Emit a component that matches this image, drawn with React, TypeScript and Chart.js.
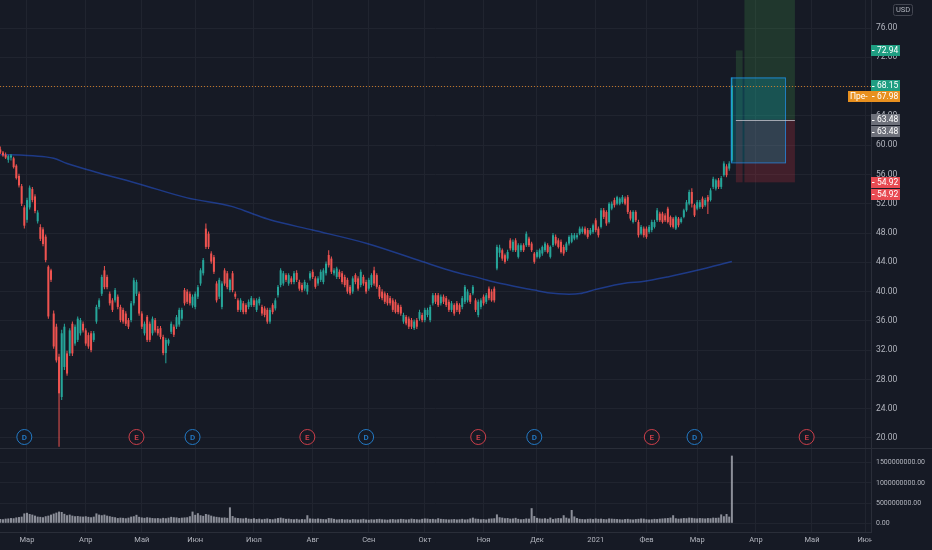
import { useEffect, useRef } from "react";
import { Chart, registerables } from "chart.js";

Chart.register(...registerables);

// Daily candles, one per trading day (open, high, low, close)
const ohlc: [number, number, number, number][] = [
  [59.4, 59.8, 58.8, 59.0], [59.0, 59.2, 58.4, 58.6], [58.7, 59.0, 58.1, 58.3], [58.0, 58.7, 57.6, 58.5], [58.3, 58.8, 57.9, 58.6],
  [58.2, 58.4, 56.8, 57.0], [57.2, 57.4, 55.3, 55.5], [55.8, 56.1, 54.2, 54.5], [54.4, 54.7, 51.7, 52.0], [51.5, 51.8, 48.6, 49.0],
  [49.8, 52.8, 49.4, 52.5], [51.5, 54.5, 51.2, 54.2], [54.0, 54.3, 52.2, 52.5], [53.0, 53.3, 50.7, 51.0], [49.6, 51.1, 49.3, 50.8],
  [48.8, 49.2, 46.9, 47.2], [48.5, 48.8, 46.2, 46.5], [47.5, 47.8, 44.0, 44.3], [43.4, 43.6, 36.3, 36.6], [42.9, 43.1, 41.3, 41.6],
  [37.0, 37.4, 32.2, 32.5], [35.2, 35.6, 30.3, 30.6], [31.1, 31.5, 18.8, 26.1], [25.6, 34.8, 25.2, 34.3], [29.7, 35.6, 29.3, 35.2],
  [31.55, 31.9, 28.5, 28.8], [31.55, 35.0, 31.2, 34.7], [35.6, 35.9, 31.2, 31.55], [32.9, 35.5, 32.6, 35.2], [33.4, 36.6, 33.1, 36.3],
  [34.3, 36.4, 34.0, 36.1], [35.6, 35.9, 34.4, 34.7], [34.7, 35.0, 32.6, 32.9], [34.05, 34.4, 32.2, 32.5], [34.3, 34.6, 31.7, 32.0],
  [33.4, 34.6, 33.1, 34.3], [35.9, 38.2, 35.6, 37.9], [37.9, 39.1, 37.6, 38.8], [39.7, 42.3, 39.4, 42.0], [42.9, 43.5, 40.3, 40.6],
  [42.0, 42.3, 40.3, 40.6], [39.7, 40.0, 38.1, 38.4], [38.8, 39.1, 37.2, 37.5], [38.8, 40.5, 38.5, 40.2], [39.3, 39.6, 37.6, 37.9],
  [37.9, 38.2, 35.8, 36.1], [37.5, 37.8, 35.6, 35.9], [37.0, 37.3, 35.3, 35.6], [36.1, 36.4, 34.9, 35.2], [36.1, 38.7, 35.8, 38.4],
  [38.4, 41.9, 38.1, 41.55], [39.7, 41.6, 39.4, 41.3], [39.7, 40.0, 36.7, 37.0], [37.0, 37.3, 34.9, 35.2], [34.3, 35.9, 34.0, 35.6],
  [36.55, 36.8, 33.1, 33.4], [35.6, 35.9, 33.1, 33.4], [34.3, 36.6, 34.0, 36.3], [36.1, 36.4, 34.4, 34.7], [34.9, 35.3, 34.0, 34.3],
  [35.0, 35.3, 33.5, 33.8], [33.8, 34.1, 31.3, 31.6], [31.6, 33.7, 30.2, 33.4], [32.9, 33.6, 32.6, 33.4], [34.5, 35.9, 34.2, 35.6],
  [35.2, 35.5, 33.8, 34.1], [35.2, 36.8, 34.9, 36.5], [35.5, 37.8, 35.2, 37.5], [36.3, 37.8, 36.0, 37.5], [40.2, 40.5, 38.1, 38.4],
  [40.0, 40.3, 38.3, 38.6], [39.7, 40.0, 38.1, 38.4], [38.1, 39.6, 37.8, 39.3], [37.9, 40.0, 37.6, 39.7], [39.3, 40.9, 39.0, 40.6],
  [41.1, 43.2, 40.8, 42.9], [42.5, 44.6, 42.2, 44.3], [48.6, 49.3, 45.8, 46.1], [47.9, 48.2, 45.8, 46.1], [45.2, 45.5, 43.8, 44.1],
  [44.7, 45.0, 42.4, 42.7], [41.1, 41.4, 38.5, 38.8], [39.3, 41.9, 39.0, 41.6], [37.9, 41.4, 37.6, 41.1], [42.9, 43.2, 40.8, 41.1],
  [42.5, 42.8, 40.3, 40.6], [40.2, 41.8, 39.9, 41.6], [42.5, 42.8, 39.9, 40.2], [39.7, 40.0, 39.0, 39.3], [38.8, 39.1, 37.2, 37.5],
  [37.5, 39.1, 37.2, 38.8], [38.4, 38.7, 36.9, 37.2], [38.15, 38.4, 36.9, 37.2], [37.9, 38.9, 37.6, 38.6], [38.15, 39.4, 37.9, 39.1],
  [38.8, 39.1, 37.9, 38.15], [37.5, 39.1, 37.2, 38.8], [38.4, 39.3, 38.1, 39.0], [37.9, 38.2, 36.7, 37.0], [37.7, 38.0, 36.5, 36.8],
  [37.5, 37.8, 35.6, 35.9], [35.9, 37.8, 35.6, 37.5], [38.15, 38.4, 36.9, 37.2], [37.7, 39.1, 37.4, 38.8], [39.5, 40.9, 39.2, 40.65],
  [40.9, 43.2, 40.6, 42.9], [41.1, 42.8, 40.8, 42.5], [42.25, 42.5, 41.3, 41.6], [41.1, 42.5, 40.8, 42.25], [41.8, 42.1, 41.0, 41.3],
  [41.3, 42.8, 41.0, 42.5], [42.55, 42.9, 41.3, 41.6], [41.3, 41.6, 40.1, 40.4], [40.9, 41.2, 39.9, 40.2], [40.4, 41.6, 40.1, 41.3],
  [40.0, 41.2, 39.6, 40.9], [41.8, 42.8, 41.5, 42.5], [42.7, 43.0, 41.7, 42.0], [41.8, 42.1, 40.4, 40.65], [41.1, 42.1, 40.8, 41.8],
  [41.6, 43.0, 41.3, 42.7], [41.3, 43.2, 41.0, 42.9], [42.5, 44.1, 42.2, 43.8], [45.0, 45.65, 43.3, 43.6], [44.5, 44.8, 42.4, 42.7],
  [42.5, 43.2, 42.2, 42.9], [42.0, 43.4, 41.7, 43.15], [42.7, 43.0, 41.7, 42.0], [42.5, 42.8, 41.0, 41.3], [42.0, 42.3, 40.6, 40.9],
  [41.6, 41.9, 39.7, 40.0], [40.65, 40.9, 39.5, 39.75], [40.0, 42.1, 39.7, 41.8], [42.25, 42.5, 41.0, 41.3], [41.8, 42.1, 40.1, 40.4],
  [40.9, 43.0, 40.6, 42.7], [42.0, 42.3, 40.8, 41.1], [41.3, 41.6, 39.7, 40.0], [40.4, 41.9, 40.1, 41.6], [40.9, 42.5, 40.6, 42.25],
  [42.9, 43.4, 40.8, 41.1], [42.25, 42.5, 40.4, 40.65], [40.65, 40.9, 39.0, 39.3], [40.0, 40.3, 38.8, 39.1], [39.75, 40.0, 38.3, 38.6],
  [39.5, 39.8, 38.1, 38.4], [39.1, 39.4, 38.1, 38.4], [38.8, 39.1, 37.2, 37.5], [38.6, 38.9, 37.0, 37.2], [38.15, 38.4, 36.9, 37.2],
  [37.9, 38.2, 36.7, 37.0], [35.9, 37.1, 35.6, 36.8], [36.55, 36.8, 35.4, 35.65], [36.3, 36.6, 34.9, 35.2], [36.1, 36.4, 34.9, 35.2],
  [35.0, 36.2, 34.75, 35.9], [36.1, 36.4, 34.9, 35.2], [36.3, 37.5, 36.0, 37.2], [36.8, 37.1, 35.8, 36.1], [36.1, 37.8, 35.8, 37.5],
  [36.8, 37.8, 36.5, 37.5], [36.1, 38.2, 35.8, 37.9], [38.4, 39.8, 38.1, 39.5], [39.5, 39.8, 38.3, 38.6], [39.5, 39.8, 37.9, 38.15],
  [38.4, 39.6, 38.1, 39.3], [39.3, 39.6, 38.3, 38.6], [39.1, 39.4, 37.9, 38.15], [38.6, 38.9, 37.2, 37.5], [37.5, 38.7, 37.2, 38.4],
  [38.15, 38.4, 36.7, 37.0], [38.4, 38.7, 37.2, 37.5], [38.15, 38.4, 36.9, 37.2], [37.9, 39.4, 37.6, 39.1], [38.6, 40.9, 38.3, 40.65],
  [38.8, 40.3, 38.5, 40.0], [39.5, 39.8, 38.3, 38.6], [39.75, 40.9, 39.5, 40.65], [38.8, 39.1, 37.2, 37.5], [36.8, 38.9, 36.5, 38.6],
  [37.9, 39.1, 37.6, 38.8], [39.3, 39.6, 38.1, 38.4], [38.6, 39.8, 38.3, 39.5], [40.4, 40.7, 38.8, 39.1], [40.0, 40.3, 38.6, 38.8],
  [40.4, 40.7, 38.5, 38.8], [43.15, 46.4, 42.9, 46.1], [45.3, 46.4, 44.7, 46.0], [45.65, 45.9, 44.2, 44.5], [44.97, 45.2, 43.8, 44.06],
  [44.5, 45.7, 44.2, 45.4], [47.0, 47.3, 45.6, 45.9], [45.65, 47.1, 45.4, 46.8], [47.0, 47.3, 45.4, 45.65], [44.74, 46.6, 44.5, 46.33],
  [45.65, 46.6, 45.4, 46.33], [46.33, 46.6, 45.4, 45.65], [46.33, 48.2, 46.1, 47.9], [47.24, 47.5, 46.1, 46.33], [46.56, 46.8, 45.4, 45.65],
  [45.2, 45.4, 43.8, 44.06], [44.74, 45.7, 44.5, 45.4], [44.74, 45.9, 44.5, 45.65], [45.2, 46.3, 44.9, 46.1], [45.65, 46.8, 45.4, 46.56],
  [46.33, 46.6, 45.2, 45.4], [44.74, 46.3, 44.5, 46.1], [46.33, 48.0, 46.1, 47.7], [47.47, 47.8, 46.3, 46.56], [47.0, 47.3, 45.9, 46.1],
  [46.8, 47.1, 45.2, 45.4], [46.1, 46.4, 44.9, 45.2], [45.65, 46.8, 45.4, 46.56], [46.56, 47.7, 46.3, 47.47], [46.8, 48.0, 46.6, 47.7],
  [47.24, 48.0, 47.0, 47.7], [47.4, 48.0, 47.1, 47.7], [47.9, 48.9, 47.7, 48.6], [48.15, 48.9, 47.9, 48.6], [48.6, 48.9, 47.7, 47.9],
  [48.4, 48.7, 47.2, 47.47], [47.9, 48.7, 47.7, 48.4], [48.15, 49.3, 47.9, 49.06], [49.74, 50.0, 48.1, 48.4], [48.6, 48.9, 47.4, 47.7],
  [48.83, 51.4, 48.6, 51.1], [51.1, 51.4, 49.9, 50.2], [50.88, 51.1, 49.0, 49.3], [49.5, 52.2, 49.3, 52.0], [51.33, 52.3, 51.1, 52.0],
  [52.5, 52.8, 51.5, 51.8], [52.0, 53.1, 51.8, 52.9], [52.0, 52.9, 51.8, 52.7], [52.2, 53.2, 52.0, 52.9], [52.7, 53.0, 51.8, 52.0],
  [52.9, 53.2, 50.6, 50.88], [50.88, 51.1, 49.7, 49.97], [49.5, 51.1, 49.3, 50.88], [50.88, 51.1, 49.5, 49.74], [49.5, 49.8, 47.4, 47.7],
  [47.9, 49.1, 47.7, 48.83], [48.6, 48.9, 47.4, 47.7], [48.6, 48.9, 47.2, 47.47], [48.15, 49.1, 47.9, 48.83], [48.4, 49.8, 48.1, 49.5],
  [48.83, 49.8, 48.6, 49.5], [49.74, 51.4, 49.5, 51.1], [50.65, 50.9, 49.5, 49.74], [50.65, 50.9, 49.3, 49.5], [50.4, 50.7, 49.5, 49.74],
  [51.33, 51.6, 49.3, 49.5], [50.2, 50.4, 48.8, 49.06], [49.97, 50.2, 48.6, 48.83], [48.6, 50.4, 48.4, 50.2], [49.97, 50.2, 48.8, 49.06],
  [49.5, 50.2, 49.3, 49.97], [50.2, 51.3, 50.0, 51.1], [51.1, 52.5, 50.9, 52.2], [52.0, 53.9, 51.8, 53.6], [53.6, 54.1, 51.5, 52.0],
  [51.8, 52.0, 50.2, 50.4], [51.33, 52.5, 51.1, 52.2], [51.56, 52.5, 51.3, 52.2], [52.7, 53.0, 51.3, 51.56], [51.8, 52.8, 51.6, 52.5],
  [52.9, 53.2, 50.6, 52.3], [52.5, 54.1, 52.3, 53.83], [54.3, 55.7, 54.0, 55.4], [54.06, 55.4, 53.8, 55.2], [55.2, 55.5, 54.0, 54.3],
  [54.3, 55.8, 54.0, 55.5], [55.9, 57.8, 55.7, 57.5], [57.1, 57.4, 55.6, 55.9], [56.8, 57.8, 56.5, 57.5], [57.9, 69.25, 57.65, 68.15],
];

// Volume per day, in millions of shares
const volumesM: number[] = [
  105, 100, 115, 120, 130, 125, 145, 155, 165,
  245, 260,
  230, 215, 190,
  165, 160, 150, 175, 190,
  215, 240, 265, 290, 280,
  235, 200, 215, 190, 175,
  180, 170, 165, 175, 160,
  150, 165, 245, 215, 200,
  215, 190, 175, 160, 150,
  130, 140, 135, 125, 140,
  165, 175, 210, 160, 145,
  135, 150, 140, 130, 125,
  130, 120, 135, 125, 140,
  160, 150, 145, 130, 140,
  145, 150, 175, 290, 210,
  250, 200, 185, 230, 215,
  190, 170, 160, 150, 140,
  145, 135, 395, 180, 140,
  130, 125, 120, 135, 115,
  110, 125, 105, 115, 100,
  110, 120, 105, 100, 115,
  130, 140, 125, 110, 115,
  105, 100, 110, 95, 105,
  100, 200, 120, 115, 110,
  120, 110, 105, 100, 130,
  125, 110, 95, 100, 105,
  95, 100, 90, 105, 100,
  95, 100, 110, 95, 90,
  100, 95, 105, 110, 100,
  95, 90, 100, 105, 95,
  100, 110, 105, 95, 100,
  115, 105, 100, 95, 110,
  120, 115, 105, 110, 100,
  125, 110, 105, 100, 95,
  100, 105, 95, 100, 110,
  95, 100, 120, 140, 115,
  110, 100, 105, 95, 115,
  120, 125, 220, 150, 140,
  125, 130, 115, 120, 135,
  110, 100, 105, 120, 115,
  375, 180, 135, 120, 115,
  125, 110, 140, 105, 120,
  130, 125, 200, 140, 120,
  330, 170, 130, 110, 105,
  100, 110, 115, 105, 120,
  110, 115, 105, 100, 120,
  115, 110, 105, 100, 95,
  105, 110, 100, 95, 105,
  110, 120, 115, 100, 95,
  100, 110, 105, 115, 120,
  125, 130, 140, 200, 125,
  115, 120, 130, 125, 140,
  135, 125, 120, 130, 125,
  120, 130, 125, 140, 135,
  140, 220, 175, 230, 165,
  1675,
];

// Moving average, read at sample days: [day index, value]
const maPoints: [number, number][] = [
  [0, 58.7], [10, 58.6], [17, 58.4], [20, 58.2], [25, 57.5], [37, 56.2], [52, 54.7], [70, 52.8],
  [87, 51.6], [94, 50.7], [101, 49.8], [117, 48.4], [137, 46.6], [158, 44.1], [170, 42.7], [180, 41.8],
  [185, 41.3], [200, 40.2], [205, 39.85], [213, 39.65], [217, 39.72], [223, 40.3], [235, 41.2], [240, 41.35],
  [250, 42.0], [261, 42.9], [274, 44.1],
];

const monthTickIndex = [10, 32, 53, 73, 95, 117, 138, 159, 181, 201, 223, 242, 261, 283, 304, 324];
const monthTickLabel = ["Мар", "Апр", "Май", "Июн", "Июл", "Авг", "Сен", "Окт", "Ноя", "Дек", "2021", "Фев", "Мар", "Апр", "Май", "Июн"];
const priceTicks = [20, 24, 28, 32, 36, 40, 44, 48, 52, 56, 60, 64, 68, 72, 76];
const volumeTicks = [0, 500000000, 1000000000, 1500000000];
const dividendIndex = [9, 72, 137, 200, 260];
const earningsIndex = [51, 115, 179, 244, 302];

const lastPrice = 68.15;
const preMarketPrice = 67.98;
const entryPrice = 63.48;
const targetPrice = 72.94;
const stopPrice = 54.92;
const rangeHigh = 69.25;
const rangeLow = 57.65;

const BG = "#161a25";
const GRID = "#20242f";
const BORDER = "#2a2e39";
const TEXT = "#b2b5be";
const UP = "#26a69a";
const DOWN = "#ef5350";
const FONT = "Roboto";

const noPad = (s: any) => {
  s.paddingTop = 0;
  s.paddingBottom = 0;
  s.paddingLeft = 0;
  s.paddingRight = 0;
};

export default function App() {
  const ref = useRef<HTMLCanvasElement>(null);

  useEffect(() => {
    document.body.style.margin = "0";
    document.body.style.background = BG;
    const canvas = ref.current;
    if (!canvas) return;

    const colors = ohlc.map((c) => (c[3] >= c[0] ? UP : DOWN));

    const overlay = {
      id: "overlay",
      beforeDraw(chart: any) {
        const { ctx, width, height } = chart;
        ctx.save();
        ctx.fillStyle = BG;
        ctx.fillRect(0, 0, width, height);
        ctx.restore();
      },
      afterDatasetsDraw(chart: any) {
        const { ctx } = chart;
        const xs = chart.scales.x;
        const ys = chart.scales.y;
        const X = (v: number) => xs.getPixelForValue(v);
        const Y = (v: number) => ys.getPixelForValue(v);
        ctx.save();
        ctx.beginPath();
        ctx.rect(xs.left, ys.top, xs.right - xs.left, ys.bottom - ys.top);
        ctx.clip();

        // long position tool (narrow strip + wide box)
        const green = "rgba(76,175,80,0.2)";
        const red = "rgba(242,54,69,0.2)";
        ctx.fillStyle = green;
        ctx.fillRect(X(275.5), Y(targetPrice), X(278.0) - X(275.5), Y(entryPrice) - Y(targetPrice));
        ctx.fillRect(X(278.7), ys.top, X(297.6) - X(278.7), Y(entryPrice) - ys.top);
        ctx.fillStyle = red;
        ctx.fillRect(X(275.5), Y(entryPrice), X(278.0) - X(275.5), Y(stopPrice) - Y(entryPrice));
        ctx.fillRect(X(278.7), Y(entryPrice), X(297.6) - X(278.7), Y(stopPrice) - Y(entryPrice));

        // range rectangle
        ctx.fillStyle = "rgba(0,188,212,0.22)";
        ctx.fillRect(X(273.6), Y(rangeHigh), X(293.9) - X(273.6), Y(rangeLow) - Y(rangeHigh));
        ctx.strokeStyle = "rgba(33,150,243,0.75)";
        ctx.lineWidth = 1;
        ctx.strokeRect(X(273.6) + 0.5, Y(rangeHigh) + 0.5, X(293.9) - X(273.6), Y(rangeLow) - Y(rangeHigh));

        // entry line
        ctx.strokeStyle = "rgba(200,202,210,0.75)";
        ctx.beginPath();
        ctx.moveTo(X(275.5), Math.round(Y(entryPrice)) + 0.5);
        ctx.lineTo(X(297.6), Math.round(Y(entryPrice)) + 0.5);
        ctx.stroke();

        // last price dotted line
        ctx.strokeStyle = "rgba(220,130,40,0.85)";
        ctx.setLineDash([1, 2]);
        ctx.beginPath();
        ctx.moveTo(xs.left, Math.round(Y(lastPrice)) + 0.5);
        ctx.lineTo(xs.right, Math.round(Y(lastPrice)) + 0.5);
        ctx.stroke();
        ctx.setLineDash([]);

        // event markers
        const my = ys.bottom - 11;
        const marker = (idx: number, letter: string, col: string) => {
          const cx = X(idx);
          ctx.beginPath();
          ctx.arc(cx, my, 7.5, 0, Math.PI * 2);
          ctx.fillStyle = BG;
          ctx.fill();
          ctx.strokeStyle = col;
          ctx.lineWidth = 1;
          ctx.stroke();
          ctx.fillStyle = col;
          ctx.font = `600 8px ${FONT}`;
          ctx.textAlign = "center";
          ctx.textBaseline = "middle";
          ctx.fillText(letter, cx, my + 0.5);
        };
        dividendIndex.forEach((i) => marker(i, "D", "#2379c4"));
        earningsIndex.forEach((i) => marker(i, "E", "#cc3f4a"));
        ctx.restore();
      },
      afterDraw(chart: any) {
        const { ctx, width, height } = chart;
        const xs = chart.scales.x;
        const ys = chart.scales.y;
        const Y = (v: number) => ys.getPixelForValue(v);
        ctx.save();

        // cover the corner under the price scale
        ctx.fillStyle = BG;
        ctx.fillRect(ys.left + 1, xs.top + 1, width - ys.left, height - xs.top);

        // pane separator
        ctx.strokeStyle = BORDER;
        ctx.lineWidth = 1;
        ctx.beginPath();
        ctx.moveTo(0, Math.round(ys.bottom) + 0.5);
        ctx.lineTo(width, Math.round(ys.bottom) + 0.5);
        ctx.stroke();

        const left = ys.left;
        const tag = (cy: number, text: string, bg: string, prefix?: string) => {
          const h = 11;
          const x0 = prefix ? left - 23 : left;
          ctx.fillStyle = bg;
          ctx.fillRect(x0, Math.round(cy - h / 2), left + 29 - x0, h);
          ctx.fillStyle = "#ffffff";
          ctx.font = `8.5px ${FONT}`;
          ctx.textAlign = "left";
          ctx.textBaseline = "middle";
          if (prefix) ctx.fillText(prefix, left - 21, cy + 0.5);
          ctx.fillRect(left + 1, Math.round(cy), 2.5, 1);
          ctx.fillText(text, left + 6, cy + 0.5);
        };
        tag(Y(targetPrice), targetPrice.toFixed(2), "#1f9e82");
        tag(Y(lastPrice), lastPrice.toFixed(2), "#1f9e82");
        tag(Y(lastPrice) + 10.7, preMarketPrice.toFixed(2), "#e8901f", "Пре-");
        tag(Y(entryPrice), entryPrice.toFixed(2), "#6e717b");
        tag(Y(entryPrice) + 12, entryPrice.toFixed(2), "#6e717b");
        tag(Y(stopPrice), stopPrice.toFixed(2), "#e84b53");
        tag(Y(stopPrice) + 12, stopPrice.toFixed(2), "#e84b53");

        // currency box
        ctx.strokeStyle = "#434651";
        ctx.lineWidth = 1;
        ctx.beginPath();
        (ctx as any).roundRect(893.5, 4.5, 19, 11, 2);
        ctx.stroke();
        ctx.fillStyle = TEXT;
        ctx.font = `7.5px ${FONT}`;
        ctx.textAlign = "center";
        ctx.textBaseline = "middle";
        ctx.fillText("USD", 903, 10.5);
        ctx.restore();
      },
    };

    const chart = new Chart(canvas, {
      type: "bar",
      data: {
        datasets: [
          {
            label: "wick",
            data: ohlc.map((c, i) => ({ x: i, y: [c[2], c[1]] })) as any,
            backgroundColor: colors,
            barThickness: 1,
            grouped: false,
            inflateAmount: 0,
            borderWidth: 0,
            yAxisID: "y",
            order: 3,
          } as any,
          {
            label: "body",
            data: ohlc.map((c, i) => ({ x: i, y: [c[0], c[3]] })) as any,
            backgroundColor: colors,
            barThickness: 2,
            minBarLength: 1,
            grouped: false,
            inflateAmount: 0,
            borderWidth: 0,
            yAxisID: "y",
            order: 2,
          } as any,
          {
            label: "volume",
            data: volumesM.map((v, i) => ({ x: i, y: v * 1000000 })) as any,
            backgroundColor: "rgba(170,173,182,0.8)",
            barThickness: 2,
            grouped: false,
            inflateAmount: 0,
            borderWidth: 0,
            yAxisID: "yv",
            order: 4,
          } as any,
          {
            type: "line",
            label: "ma",
            data: maPoints.map(([i, v]) => ({ x: i, y: v })) as any,
            borderColor: "rgba(41,98,255,0.45)",
            borderWidth: 1.5,
            pointRadius: 0,
            cubicInterpolationMode: "monotone",
            yAxisID: "y",
            order: 5,
          } as any,
        ],
      },
      options: {
        responsive: false,
        animation: false,
        events: [],
        layout: { padding: 0 },
        plugins: { legend: { display: false }, tooltip: { enabled: false } },
        scales: {
          x: {
            type: "linear",
            min: -0.11,
            max: 326.1,
            offset: false,
            grid: { color: GRID, offset: false, drawTicks: false },
            border: { color: BORDER },
            ticks: {
              color: TEXT,
              font: { family: FONT, size: 7.5 },
              padding: 4,
              autoSkip: false,
              maxRotation: 0,
              minRotation: 0,
              callback: (v: any) => {
                const k = monthTickIndex.indexOf(Number(v));
                return k >= 0 ? monthTickLabel[k] : "";
              },
            },
            afterBuildTicks: (s: any) => {
              s.ticks = monthTickIndex.map((v) => ({ value: v }));
            },
            afterFit: (s: any) => {
              s.height = 18;
              noPad(s);
            },
          } as any,
          y: {
            type: "linear",
            position: "right",
            stack: "panes",
            stackWeight: 448,
            min: 18.63,
            max: 79.83,
            grid: { color: GRID, drawTicks: false },
            border: { color: BORDER },
            ticks: {
              color: TEXT,
              font: { family: FONT, size: 8.5 },
              padding: 5,
              callback: (v: any) => Number(v).toFixed(2),
            },
            afterBuildTicks: (s: any) => {
              s.ticks = priceTicks.map((v) => ({ value: v }));
            },
            afterFit: (s: any) => {
              s.width = 61;
              noPad(s);
            },
          } as any,
          yv: {
            type: "linear",
            position: "right",
            stack: "panes",
            stackWeight: 84,
            min: -215000000,
            max: 1864000000,
            grid: { color: GRID, drawTicks: false },
            border: { color: BORDER },
            ticks: {
              color: TEXT,
              font: { family: FONT, size: 7 },
              padding: 5,
              callback: (v: any) => Number(v).toFixed(2),
            },
            afterBuildTicks: (s: any) => {
              s.ticks = volumeTicks.map((v) => ({ value: v }));
            },
            afterFit: (s: any) => {
              s.width = 61;
              noPad(s);
            },
          } as any,
        },
      },
      plugins: [overlay],
    } as any);

    return () => chart.destroy();
  }, []);

  return (
    <div style={{ width: 932, height: 550, overflow: "hidden", background: BG }}>
      <canvas ref={ref} width={932} height={550} style={{ display: "block" }} />
    </div>
  );
}
